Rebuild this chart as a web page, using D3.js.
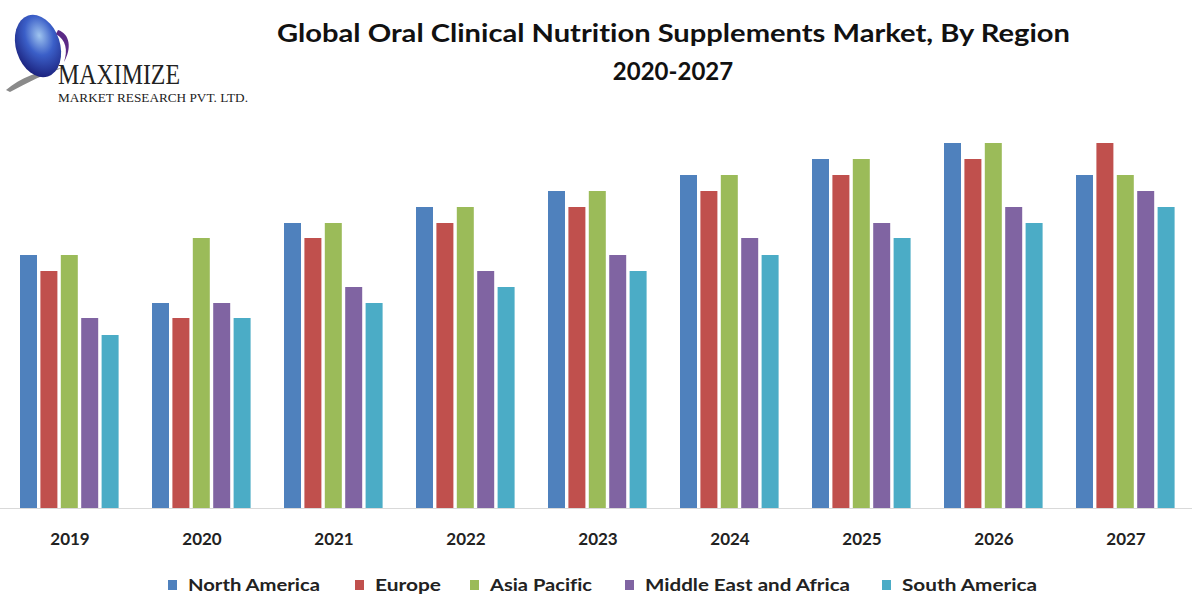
<!DOCTYPE html>
<html><head><meta charset="utf-8">
<script src="https://cdn.jsdelivr.net/npm/d3@7"></script>
<style>html,body{margin:0;padding:0;background:#fff;}svg{display:block;}text{font-variant-ligatures:none;}</style>
</head><body>
<svg id="c" width="1200" height="600"></svg>
<script>
const years = ["2019","2020","2021","2022","2023","2024","2025","2026","2027"];
const series = ["North America","Europe","Asia Pacific","Middle East and Africa","South America"];
const colors = ["#4F81BD","#C0504D","#9BBB59","#8064A2","#4BACC6"];
const northAmerica = [253,205,285,301,317,333,349,365,333];
const europe       = [237,190,270,285,301,317,333,349,365];
const asiaPacific  = [253,270,285,301,317,333,349,365,333];
const mea          = [190,205,221,237,253,270,285,301,317];
const southAmerica = [173,190,205,221,237,253,270,285,301];
const values = [northAmerica, europe, asiaPacific, mea, southAmerica];
const legendLen = [132,66,102,205,135];
const legendX = [168,355,470,625,882];

const svg = d3.select("#c");
const font = "Lato, 'Open Sans', sans-serif";

// logo
const defs = svg.append("defs");
const g1 = defs.append("radialGradient").attr("id","globe").attr("cx","0.6").attr("cy","0.35").attr("r","0.7");
g1.append("stop").attr("offset","0").attr("stop-color","#9fc4ef");
g1.append("stop").attr("offset","0.45").attr("stop-color","#3b5fc8");
g1.append("stop").attr("offset","1").attr("stop-color","#1a1f7a");
const logo = svg.append("g");
logo.append("path").attr("d","M6,90 C20,78 40,70 62,68 C45,74 28,82 10,92 Z").attr("fill","#8a8a8a");
logo.append("ellipse").attr("cx",38).attr("cy",46).attr("rx",22).attr("ry",32)
  .attr("transform","rotate(-18,38,46)").attr("fill","url(#globe)");
logo.append("path").attr("d","M58,30 C70,34 72,48 64,62 C68,50 66,40 56,34 Z").attr("fill","#5b2a86");
logo.append("text").attr("x",58).attr("y",84).attr("font-family","'Liberation Serif', serif")
  .attr("font-size",30).attr("fill","#222").attr("textLength",122).attr("lengthAdjust","spacingAndGlyphs").text("MAXIMIZE");
logo.append("text").attr("x",58).attr("y",102).attr("font-family","'Liberation Serif', serif")
  .attr("font-size",13).attr("fill","#222").attr("textLength",190).attr("lengthAdjust","spacingAndGlyphs").text("MARKET RESEARCH PVT. LTD.");

// title
svg.append("text").attr("x",277).attr("y",42).attr("font-family",font).attr("font-weight","bold")
  .attr("font-size",24).attr("fill","#111").attr("textLength",793).attr("lengthAdjust","spacingAndGlyphs")
  .text("Global Oral Clinical Nutrition Supplements Market, By Region");
svg.append("text").attr("x",673).attr("y",80).attr("text-anchor","middle").attr("font-family",font)
  .attr("font-weight","bold").attr("font-size",24).attr("fill","#111").text("2020-2027");

// scales
const x0 = d3.scaleBand().domain(years).range([3,1191]);
const x1 = d3.scaleBand().domain(series).range([17,115.6]).paddingInner(0.167);
const y = d3.scaleLinear().domain([0,365]).range([508,143]);

const groups = svg.append("g").selectAll("g").data(years).join("g")
  .attr("transform", d => `translate(${x0(d)},0)`);
groups.selectAll("rect").data((d,i) => series.map((s,j) => ({s, j, v: values[j][i]})))
  .join("rect")
  .attr("x", d => x1(d.s)).attr("width", x1.bandwidth())
  .attr("y", d => y(d.v)).attr("height", d => y(0) - y(d.v))
  .attr("fill", d => colors[d.j]);

// baseline axis
const axis = svg.append("g").attr("transform","translate(0,508)")
  .call(d3.axisBottom(x0).tickSize(0).tickPadding(0));
axis.select(".domain").attr("stroke","#d9d9d9").attr("d","M0,0.5H1192");
axis.selectAll("text").attr("y",37).attr("dy",0).attr("font-family",font).attr("font-weight","bold")
  .attr("font-size",17).attr("fill","#222").attr("dx",1);

// legend
const leg = svg.append("g").selectAll("g").data(series).join("g");
leg.append("rect").attr("x",(d,i)=>legendX[i]).attr("y",580).attr("width",9).attr("height",10)
  .attr("fill",(d,i)=>colors[i]);
leg.append("text").attr("x",(d,i)=>legendX[i]+20).attr("y",591).attr("font-family",font)
  .attr("font-weight","bold").attr("font-size",17).attr("fill","#222")
  .attr("textLength",(d,i)=>legendLen[i]).attr("lengthAdjust","spacingAndGlyphs").text(d=>d);
</script>
</body></html>
